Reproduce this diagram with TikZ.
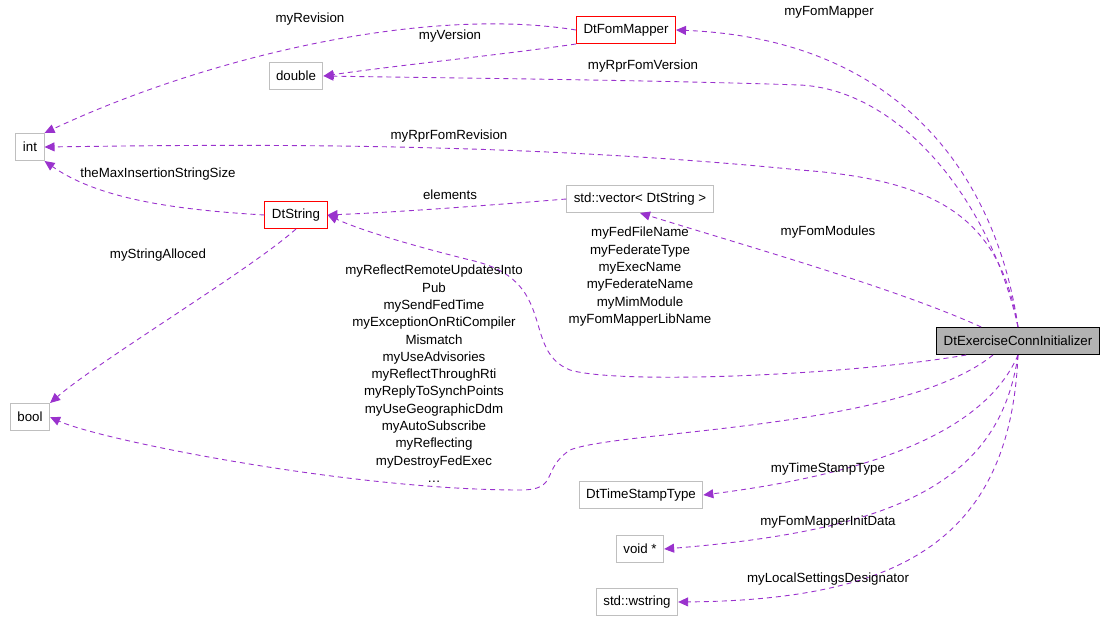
\documentclass[tikz,border=0pt]{standalone}
\usepackage{fontspec}
\setmainfont{Liberation Sans}
\usetikzlibrary{arrows.meta}
\definecolor{edge}{HTML}{9A32CD}
\definecolor{gbox}{HTML}{BFBFBF}
\begin{document}
\begin{tikzpicture}[x=1pt,y=-1pt,font=\fontsize{13.3}{17.3}\selectfont,
  box/.style={draw=gbox,line width=1pt,rectangle,minimum height=27pt,inner xsep=7pt,inner ysep=0pt,fill=white},
  red/.style={box,draw=red},
  e/.style={draw=edge,line width=0.9pt,dash pattern=on 5pt off 4pt,-{Triangle[length=10pt,width=9pt,fill=edge]}},
  lab/.style={align=center,inner sep=0pt}]
\useasboundingbox (0,0) rectangle (1109,629);
\node[red] (fm) at (626,30) {DtFomMapper};
\node[box] (dbl) at (296,76) {double};
\node[box] (int) at (30,147) {int};
\node[red] (ds) at (296,215) {DtString};
\node[box] (vec) at (640,199) {std::vector< DtString >};
\node[box] (bool) at (30,417) {bool};
\node[draw=black,line width=1pt,fill=gray!60,minimum height=27pt,inner xsep=7pt] (ex) at (1018,341) {DtExerciseConnInitializer};
\node[box] (ts) at (641,495) {DtTimeStampType};
\node[box] (vp) at (640,549) {void *};
\node[box] (ws) at (637,602) {std::wstring};

\draw[e] (fm.west) .. controls (420,5) and (200,60) .. (int.north east);
\draw[e] (fm.south west) .. controls (500,55) and (400,65) .. (dbl.east);
\draw[e] (ex.north) .. controls (1000,200) and (920,40) .. (fm.east);
\draw[e] (ex.north) .. controls (990,200) and (900,90) .. (800,85) .. controls (650,80) and (450,78) .. (dbl.east);
\draw[e] (ex.north) .. controls (1000,220) and (940,180) .. (800,170) .. controls (500,140) and (200,145) .. (int.east);
\draw[e] (ds.west) .. controls (180,210) and (100,200) .. (int.south east);
\draw[e] (vec.west) .. controls (480,206) and (400,212) .. (ds.east);
\draw[e] (ex.north west) ++(45,0) .. controls (900,290) and (760,250) .. (vec.south);
\draw[e] (ex.south west) ++(30,0) .. controls (850,375) and (620,385) .. (570,370) .. controls (520,350) and (560,280) .. (470,260) .. controls (410,245) and (360,230) .. (ds.east);
\draw[e] (ds.south) .. controls (250,270) and (100,360) .. (bool.north east);
\draw[e] (ex.south) ++(-25,0) .. controls (900,430) and (620,430) .. (570,450) .. controls (540,470) and (560,490) .. (520,490) .. controls (350,490) and (100,440) .. (bool.east);
\draw[e] (ex.south) .. controls (990,420) and (900,470) .. (ts.east);
\draw[e] (ex.south) .. controls (1000,480) and (900,530) .. (vp.east);
\draw[e] (ex.south) .. controls (1010,540) and (900,600) .. (ws.east);

\node[lab] at (310,19) {myRevision};
\node[lab] at (450,36) {myVersion};
\node[lab] at (829,12) {myFomMapper};
\node[lab] at (643,66) {myRprFomVersion};
\node[lab] at (449,136) {myRprFomRevision};
\node[lab] at (158,174) {theMaxInsertionStringSize};
\node[lab] at (450,195) {elements};
\node[lab] at (828,232) {myFomModules};
\node[lab] at (158,255) {myStringAlloced};
\node[lab,anchor=north] at (640,227) {myFedFileName\\myFederateType\\myExecName\\myFederateName\\myMimModule\\myFomMapperLibName};
\node[lab,anchor=north] at (434,265) {myReflectRemoteUpdatesInto\\Pub\\mySendFedTime\\myExceptionOnRtiCompiler\\Mismatch\\myUseAdvisories\\myReflectThroughRti\\myReplyToSynchPoints\\myUseGeographicDdm\\myAutoSubscribe\\myReflecting\\myDestroyFedExec\\\ldots};
\node[lab] at (828,469) {myTimeStampType};
\node[lab] at (828,522) {myFomMapperInitData};
\node[lab] at (828,579) {myLocalSettingsDesignator};
\end{tikzpicture}
\end{document}
